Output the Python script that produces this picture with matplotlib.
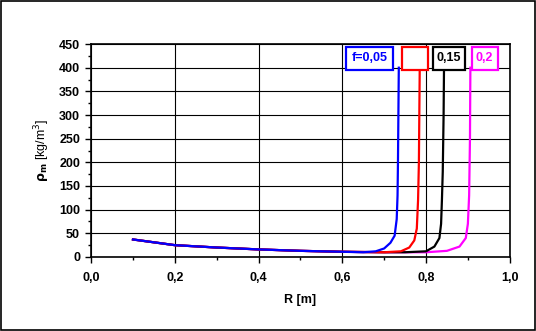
import matplotlib
matplotlib.use("Agg")
import matplotlib.pyplot as plt
from matplotlib.patches import Rectangle

plt.rcParams['font.family'] = ['Liberation Sans', 'DejaVu Sans']

# curves for the friction factors f
r_005 = [0.10, 0.20, 0.30, 0.40, 0.50, 0.60, 0.65, 0.68, 0.70, 0.715, 0.725, 0.730, 0.732, 0.733, 0.734, 0.735]
rho_005 = [37, 25, 20, 16, 13, 11, 10, 12, 18, 30, 45, 80, 130, 200, 300, 400]

r_010 = [0.10, 0.20, 0.30, 0.40, 0.50, 0.60, 0.70, 0.74, 0.76, 0.772, 0.778, 0.781, 0.783, 0.784, 0.785]
rho_010 = [37, 25, 20, 16, 13, 11, 10, 12, 20, 35, 60, 120, 200, 300, 400]

r_015 = [0.10, 0.20, 0.30, 0.40, 0.50, 0.60, 0.70, 0.75, 0.80, 0.82, 0.832, 0.836, 0.838, 0.840, 0.842, 0.843]
rho_015 = [37, 25, 20, 16, 13, 11, 10, 10, 12, 22, 40, 70, 120, 180, 300, 400]

r_020 = [0.10, 0.20, 0.30, 0.40, 0.50, 0.60, 0.70, 0.80, 0.85, 0.88, 0.895, 0.900, 0.903, 0.905, 0.906]
rho_020 = [37, 25, 20, 16, 13, 11, 10, 10, 13, 22, 40, 70, 130, 250, 400]

labels = ["f=0,05", "", "0,15", "0,2"]
colors = ["#0000ff", "#ff0000", "#000000", "#ff00ff"]
# label box extents (R from, R to)
box_r = [(0.609, 0.721), (0.742, 0.804), (0.816, 0.893), (0.909, 0.971)]
box_rho = (395, 444)

fig = plt.figure(figsize=(5.36, 3.31), dpi=100)
ax = fig.add_axes([0.170, 0.2236, 0.781, 0.6434])

# draw back to front so blue ends on top
series = [(r_020, rho_020), (r_015, rho_015), (r_010, rho_010), (r_005, rho_005)]
for (r, rho), c in zip(series, colors[::-1]):
    ax.plot(r, rho, color=c, lw=1.6)

for (x0, x1), txt, c in zip(box_r, labels, colors):
    ax.add_patch(Rectangle((x0, box_rho[0]), x1 - x0, box_rho[1] - box_rho[0],
                           fc='white', ec=c, lw=1.6, zorder=5))
    ax.text((x0 + x1) / 2, sum(box_rho) / 2, txt, color=c, fontsize=9, fontweight='bold',
            ha='center', va='center', zorder=6)

ax.set_xlim(0, 1.0)
ax.set_ylim(0, 450)
ax.set_xticks([0, 0.2, 0.4, 0.6, 0.8, 1.0])
ax.set_xticklabels(["0,0", "0,2", "0,4", "0,6", "0,8", "1,0"])
ax.set_yticks(range(0, 451, 50))
ax.set_xticks([0.1, 0.3, 0.5, 0.7, 0.9], minor=True)
ax.set_yticks(range(25, 450, 50), minor=True)
ax.grid(True, which='major', color='black', lw=0.8)
ax.tick_params(which='major', direction='out', length=4, width=1, labelsize=9)
ax.tick_params(axis='x', which='major', pad=7)
ax.tick_params(axis='y', which='major', pad=4)
ax.tick_params(which='minor', direction='out', length=2, width=1)
for lbl in ax.get_xticklabels() + ax.get_yticklabels():
    lbl.set_fontweight('bold')
for s in ax.spines.values():
    s.set_linewidth(1.2)

ax.set_xlabel("R [m]", fontsize=9, fontweight='bold', labelpad=7)
ax.set_ylabel(r"$\mathbf{\rho_m}$ [kg/m$^3$]", fontsize=9, labelpad=5)

fig.patches.append(Rectangle((0.002, 0.003), 0.996, 0.994, transform=fig.transFigure,
                             fill=False, ec='black', lw=1.2))

fig.savefig("out.png", dpi=100)
